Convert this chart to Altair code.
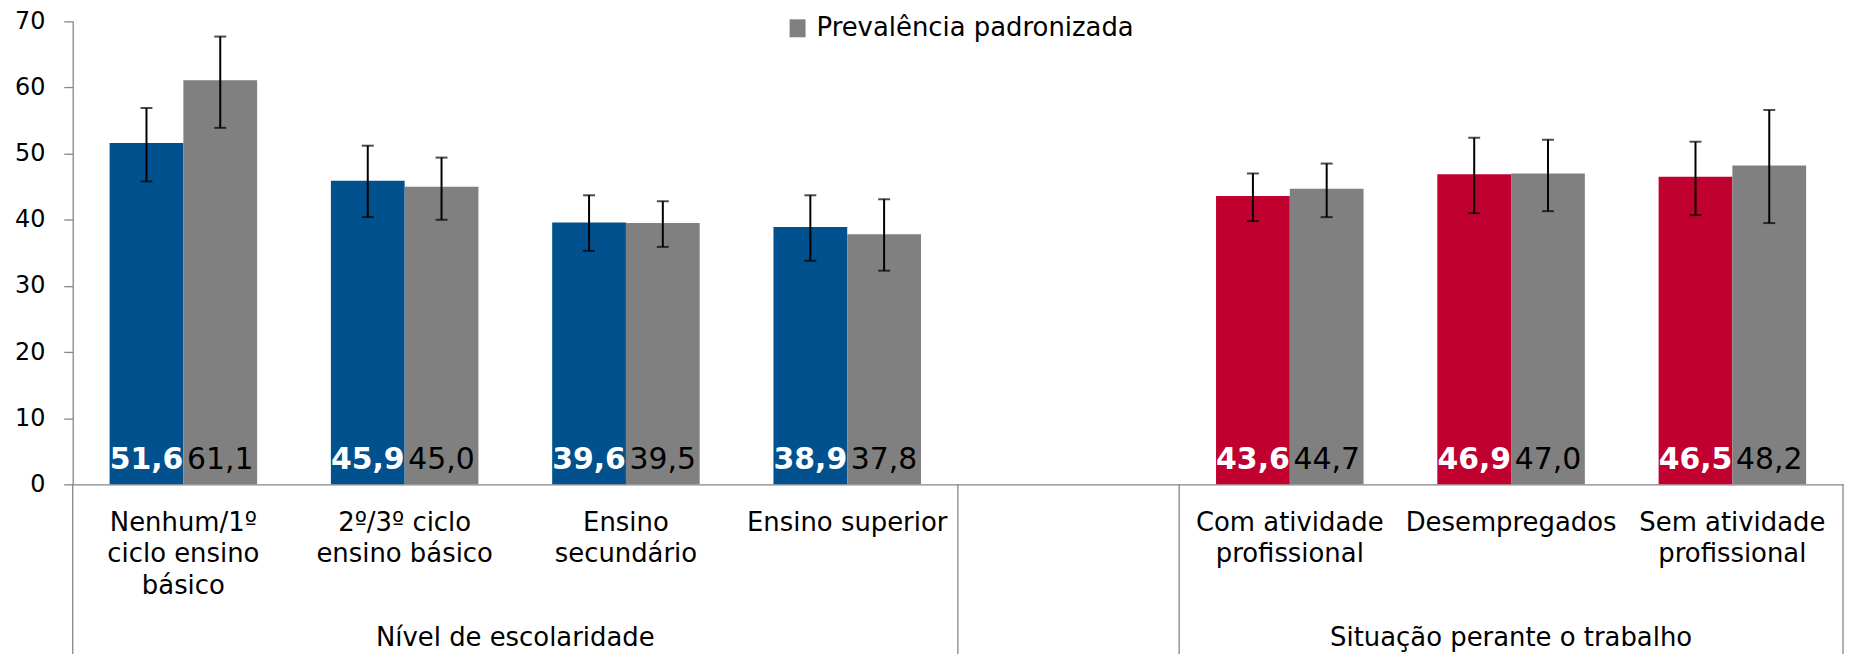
import altair as alt
import pandas as pd

# ---- data ----
categorias = ["Nenhum/1º|ciclo ensino|básico", "2º/3º ciclo|ensino básico",
              "Ensino|secundário", "Ensino superior",
              "Com atividade|profissional", "Desempregados", "Sem atividade|profissional"]
grupo_cat = ["esc", "esc", "esc", "esc", "trab", "trab", "trab"]

bruta = [51.6, 45.9, 39.6, 38.9, 43.6, 46.9, 46.5]
bruta_lo = [45.8, 40.4, 35.3, 33.8, 39.8, 41.0, 40.7]
bruta_hi = [56.9, 51.2, 43.7, 43.7, 47.0, 52.4, 51.8]

padron = [61.1, 45.0, 39.5, 37.8, 44.7, 47.0, 48.2]
padron_lo = [53.9, 40.0, 35.9, 32.3, 40.4, 41.3, 39.5]
padron_hi = [67.7, 49.4, 42.8, 43.1, 48.5, 52.1, 56.6]

vazio = " "
dominio_x = categorias[:4] + [vazio] + categorias[4:]
grupos = ["Nível de escolaridade", "Situação perante o trabalho"]
legenda = "Prevalência padronizada"

cores_dom = ["esc", "trab", legenda]
cores_rng = ["#00518E", "#C0002F", "#808080"]

FONT = "DejaVu Sans"
AXC = "#868686"

rows = []
for i, c in enumerate(categorias):
    rows.append(dict(cat=c, serie="a", ck=grupo_cat[i], val=bruta[i], lo=bruta_lo[i], hi=bruta_hi[i],
                     lab=f"{bruta[i]:.1f}".replace(".", ",")))
    rows.append(dict(cat=c, serie="b", ck=legenda, val=padron[i], lo=padron_lo[i], hi=padron_hi[i],
                     lab=f"{padron[i]:.1f}".replace(".", ",")))
df = pd.DataFrame(rows)

xscale = alt.Scale(domain=dominio_x, paddingInner=0, paddingOuter=0)
xaxis = alt.Axis(title=None, labelExpr="split(datum.label, '|')", labelAngle=0,
                 labelFontSize=26, labelLineHeight=32, labelPadding=25, labelBaseline="top",
                 ticks=False, domainColor=AXC, domainWidth=1.3, labelColor="black",
                 labelFont=FONT, labelLimit=400, labelOverlap=False)
X = alt.X("cat:N", scale=xscale, axis=xaxis)
XO = alt.XOffset("serie:N", scale=alt.Scale(domain=["a", "b"], paddingInner=0, paddingOuter=0.5))
yscale = alt.Scale(domain=[0, 70], nice=False)
Y = alt.Y("val:Q", scale=yscale,
          axis=alt.Axis(title=None, values=list(range(0, 71, 10)), grid=False, tickSize=9,
                        tickColor=AXC, domainColor=AXC, domainWidth=1.3, tickWidth=1.3,
                        labelFontSize=24, labelPadding=19, labelColor="black", labelFont=FONT))

base = alt.Chart(df)

bars = base.mark_bar().encode(
    x=X, xOffset=XO, y=Y,
    color=alt.Color("ck:N", scale=alt.Scale(domain=cores_dom, range=cores_rng),
                    legend=alt.Legend(values=[legenda], title=None, orient="none",
                                      legendX=715, legendY=-6, labelFontSize=26, labelFont=FONT,
                                      labelColor="black", symbolType="M-0.89,-1H0.89V1H-0.89Z",
                                      symbolSize=324, symbolStrokeWidth=0, symbolOpacity=1,
                                      labelOffset=6, padding=0, labelLimit=600)),
)

err = base.mark_rule(color="black", strokeWidth=2).encode(
    x=X, xOffset=XO, y=alt.Y("lo:Q", scale=yscale, title=None), y2="hi:Q")
cap_lo = base.mark_tick(color="black", thickness=2, size=12).encode(
    x=X, xOffset=XO, y=alt.Y("lo:Q", scale=yscale, title=None))
cap_hi = base.mark_tick(color="black", thickness=2, size=12).encode(
    x=X, xOffset=XO, y=alt.Y("hi:Q", scale=yscale, title=None))

txt_a = base.transform_filter("datum.serie == 'a'").mark_text(
    font=FONT, fontSize=30, fontWeight="bold", color="white", baseline="alphabetic", dy=-15
).encode(x=X, xOffset=XO, y=alt.datum(0, scale=yscale), text="lab:N")
txt_b = base.transform_filter("datum.serie == 'b'").mark_text(
    font=FONT, fontSize=30, color="black", baseline="alphabetic", dy=-15
).encode(x=X, xOffset=XO, y=alt.datum(0, scale=yscale), text="lab:N")

# frame lines below the axis
sep_start = alt.Chart(pd.DataFrame({"cat": [categorias[0], vazio, categorias[4]]})).mark_rule(
    color=AXC, strokeWidth=1.3).encode(
    x=alt.X("cat:N", scale=xscale, axis=xaxis, bandPosition=0),
    y=alt.value(465), y2=alt.value(700))
sep_end = alt.Chart(pd.DataFrame({"cat": [categorias[-1]]})).mark_rule(
    color=AXC, strokeWidth=1.3).encode(
    x=alt.X("cat:N", scale=xscale, axis=xaxis, bandPosition=1),
    y=alt.value(465), y2=alt.value(700))

g1 = alt.Chart(pd.DataFrame({"cat": [categorias[2]], "g": [grupos[0]]})).mark_text(
    font=FONT, fontSize=26, color="black", baseline="alphabetic").encode(
    x=alt.X("cat:N", scale=xscale, axis=xaxis, bandPosition=0), y=alt.value(627), text="g:N")
g2 = alt.Chart(pd.DataFrame({"cat": [categorias[5]], "g": [grupos[1]]})).mark_text(
    font=FONT, fontSize=26, color="black", baseline="alphabetic").encode(
    x=alt.X("cat:N", scale=xscale, axis=xaxis, bandPosition=0.5), y=alt.value(627), text="g:N")

chart = alt.layer(bars, err, cap_lo, cap_hi, txt_a, txt_b, sep_start, sep_end, g1, g2).properties(
    width=1778, height=465,
    autosize=alt.AutoSizeParams(type="none"),
    padding={"left": 65, "top": 12, "right": 5, "bottom": 169},
).configure_view(stroke=None)

chart.save("out.html", embed_options={"renderer": "svg", "actions": False})
